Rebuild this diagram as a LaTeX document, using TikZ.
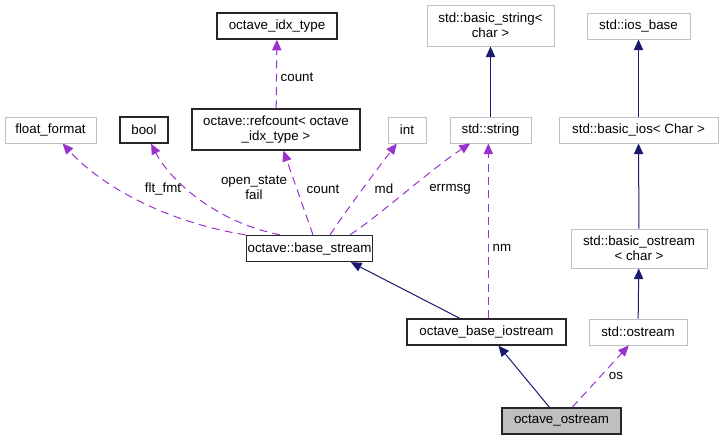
\documentclass[tikz,border=0pt]{standalone}
\usepackage{fontspec}
\setmainfont{Liberation Sans}
\usetikzlibrary{arrows.meta}
\definecolor{navy}{HTML}{191970}
\definecolor{orchid}{HTML}{9A32CD}
\definecolor{graybd}{HTML}{BFBFBF}
\begin{document}
\begin{tikzpicture}[x=0.75pt,y=-0.75pt,font=\fontsize{10}{11.5}\selectfont]
  \tikzset{box/.style={draw=black!85, line width=1pt, minimum height=19.5pt, inner sep=1pt, align=center, minimum width=#1*0.75pt},
    ext/.style={box=#1, draw=graybd, line width=0.75pt},
    inh/.style={draw=navy, line width=0.75pt, -{Triangle[length=8pt,width=7pt]}},
    use/.style={draw=orchid, line width=0.75pt, dash pattern=on 6pt off 4pt, -{Triangle[length=8pt,width=7pt]}}}
  \useasboundingbox (0,0) rectangle (723,440);
  % classes
  \node[box=120] (idx) at (277,26) {octave\_idx\_type};
  \node[ext=91] (fmt) at (50.5,130) {float\_format};
  \node[box=48] (bool) at (144,130) {bool};
  \node[box=168, minimum height=30.75pt] (refc) at (276,129.5) {octave::refcount< octave\\\_idx\_type >};
  \node[ext=38] (int) at (407,130) {int};
  \node[ext=81] (str) at (490.5,130) {std::string};
  \node[ext=127, minimum height=30.75pt] (bstr) at (490.5,25.5) {std::basic\_string<\\char >};
  \node[ext=103] (iosb) at (638.5,26) {std::ios\_base};
  \node[ext=159] (bios) at (638.5,130) {std::basic\_ios< Char >};
  \node[box=123] (bstrm) at (309.5,248.5) {octave::base\_stream};
  \node[ext=136, minimum height=29.25pt] (bost) at (639,248.5) {std::basic\_ostream\\< char >};
  \node[box=159] (biostr) at (486.5,332) {octave\_base\_iostream};
  \node[ext=98] (ost) at (638,332) {std::ostream};
  \node[box=119, fill=graybd] (ostrm) at (561.5,421) {octave\_ostream};
  % inheritance
  \draw[inh] (str) -- (bstr);
  \draw[inh] (bios) -- (iosb);
  \draw[inh] (bost) -- (bios);
  \draw[inh] (ost) -- (bost);
  \draw[inh] ([xshift=-20pt]biostr.north) -- ([xshift=31pt]bstrm.south);
  \draw[inh] ([xshift=-9pt]ostrm.north) -- ([xshift=9pt]biostr.south);
  % members
  \draw[use] (refc) -- (idx);
  \draw[use] (bstrm.north west) .. controls (165,222) and (100,185) .. (fmt);
  \draw[use] ([xshift=-22pt]bstrm.north) .. controls (215,222) and (170,180) .. (bool);
  \draw[use] ([xshift=2.6pt]bstrm.north) -- (refc);
  \draw[use] ([xshift=15.4pt]bstrm.north) .. controls (345,212) and (375,172) .. (int);
  \draw[use] ([xshift=30.4pt]bstrm.north) .. controls (380,215) and (430,170) .. (str);
  \draw[use] ([xshift=1.4pt]biostr.north) -- ([xshift=1.4pt]biostr.north |- str.south);
  \draw[use] ([xshift=8pt]ostrm.north) -- ([xshift=-7pt]ost.south);
  % labels
  \node (lcnt) at (297,77) {count};
  \node (lfmt) at (163,189) {flt\_fmt};
  \node[align=center] (lopen) at (254,188) {open\_state\\fail};
  \node (lref) at (323,189) {count};
  \node (lmd) at (384,189) {md};
  \node (lerr) at (450,189) {errmsg};
  \node (lnm) at (502,248) {nm};
  \node (los) at (616,376) {os};
\end{tikzpicture}
\end{document}
